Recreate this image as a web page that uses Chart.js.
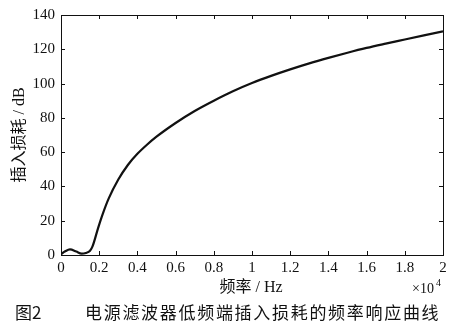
<!DOCTYPE html>
<html>
<head>
<meta charset="utf-8">
<script src="https://cdn.jsdelivr.net/npm/chart.js@4/dist/chart.umd.min.js"></script>
<style>
  html, body { margin: 0; padding: 0; background: #fff; }
  #wrap { width: 460px; height: 326px; }
</style>
</head>
<body>
<div id="wrap"><canvas id="c" width="460" height="326"></canvas></div>
<script>
// frequency in units of 10^4 Hz, insertion loss in dB
const freqs = [0, 0.02, 0.047, 0.08, 0.108, 0.13, 0.152, 0.165, 0.195, 0.222, 0.25, 0.3, 0.35, 0.4, 0.45,
    0.5, 0.6, 0.7, 0.8, 0.9, 1.0, 1.1, 1.2, 1.3, 1.4, 1.5, 1.6, 1.7, 1.8, 1.9, 2.0];
const loss = [0.5, 2, 3.3, 2, 0.8, 1.2, 2.5, 5, 16, 25, 33, 44, 52.5, 59, 64.3,
    69, 77, 84, 90, 95.5, 100.3, 104.5, 108.3, 111.8, 115, 118, 120.8, 123.3, 125.7, 128.1, 130.5];

const xTicks = [0, 0.2, 0.4, 0.6, 0.8, 1, 1.2, 1.4, 1.6, 1.8, 2];
const xTickLabels = ['0', '0.2', '0.4', '0.6', '0.8', '1', '1.2', '1.4', '1.6', '1.8', '2'];
const yTicks = [0, 20, 40, 60, 80, 100, 120, 140];

const serif = "'Liberation Serif', 'Noto Sans CJK SC', serif";
const cjk = "'Noto Sans CJK SC', sans-serif";
const ink = '#111';

// inward ticks on all four sides, box, and the extra texts
const framePlugin = {
    id: 'frame',
    beforeDraw(chart) {
        const ctx = chart.ctx;
        ctx.save();
        ctx.fillStyle = '#fff';
        ctx.fillRect(0, 0, chart.width, chart.height);
        ctx.restore();
    },
    afterDraw(chart) {
        const ctx = chart.ctx;
        const a = chart.chartArea;
        const xs = chart.scales.x, ys = chart.scales.y;
        ctx.save();
        ctx.strokeStyle = ink;
        ctx.lineWidth = 1;
        ctx.strokeRect(Math.round(a.left) + 0.5, Math.round(a.top) + 0.5,
            Math.round(a.right - a.left), Math.round(a.bottom - a.top));
        ctx.beginPath();
        xs.ticks.forEach(t => {
            const px = Math.round(xs.getPixelForValue(t.value)) + 0.5;
            ctx.moveTo(px, a.bottom); ctx.lineTo(px, a.bottom - 4);
            ctx.moveTo(px, a.top); ctx.lineTo(px, a.top + 4);
        });
        ys.ticks.forEach(t => {
            const py = Math.round(ys.getPixelForValue(t.value)) + 0.5;
            ctx.moveTo(a.left, py); ctx.lineTo(a.left + 4, py);
            ctx.moveTo(a.right, py); ctx.lineTo(a.right - 4, py);
        });
        ctx.stroke();

        ctx.fillStyle = ink;
        ctx.textBaseline = 'middle';
        ctx.textAlign = 'center';
        ctx.font = '16px ' + serif;
        ctx.fillText('频率 / Hz', 251, 288);

        ctx.textAlign = 'left';
        ctx.font = '14px ' + serif;
        ctx.fillText('×10', 412, 289);
        ctx.font = '10px ' + serif;
        ctx.fillText('4', 436, 283);

        ctx.font = '17px ' + cjk;
        ctx.fillText('图2', 15, 313);
        ctx.letterSpacing = '1.7px';
        ctx.fillText('电源滤波器低频端插入损耗的频率响应曲线', 85, 313);
        ctx.restore();
    }
};

new Chart(document.getElementById('c'), {
    type: 'line',
    data: {
        datasets: [{
            data: freqs.map((f, i) => ({ x: f, y: loss[i] })),
            borderColor: ink,
            borderWidth: 2.2,
            pointRadius: 0,
            fill: false,
            cubicInterpolationMode: 'monotone'
        }]
    },
    options: {
        responsive: false,
        animation: false,
        layout: { padding: { top: 12, right: 17, left: 0, bottom: 0 } },
        plugins: { legend: { display: false }, tooltip: { enabled: false } },
        scales: {
            x: {
                type: 'linear',
                min: 0, max: 2,
                afterBuildTicks: s => { s.ticks = xTicks.map(v => ({ value: v })); },
                afterFit: s => { s.height = 71; },
                grid: { display: false, drawTicks: false },
                border: { display: false },
                ticks: {
                    color: ink,
                    padding: 4,
                    maxRotation: 0,
                    font: { family: serif, size: 15 },
                    callback: (v, i) => xTickLabels[i]
                }
            },
            y: {
                min: 0, max: 140,
                afterBuildTicks: s => { s.ticks = yTicks.map(v => ({ value: v })); },
                afterFit: s => { s.width = 61; },
                grid: { display: false, drawTicks: false },
                border: { display: false },
                title: {
                    display: true,
                    text: '插入损耗 / dB',
                    color: ink,
                    padding: 10,
                    font: { family: serif, size: 16 }
                },
                ticks: {
                    color: ink,
                    padding: 6,
                    font: { family: serif, size: 15 }
                }
            }
        }
    },
    plugins: [framePlugin]
});
</script>
</body>
</html>
